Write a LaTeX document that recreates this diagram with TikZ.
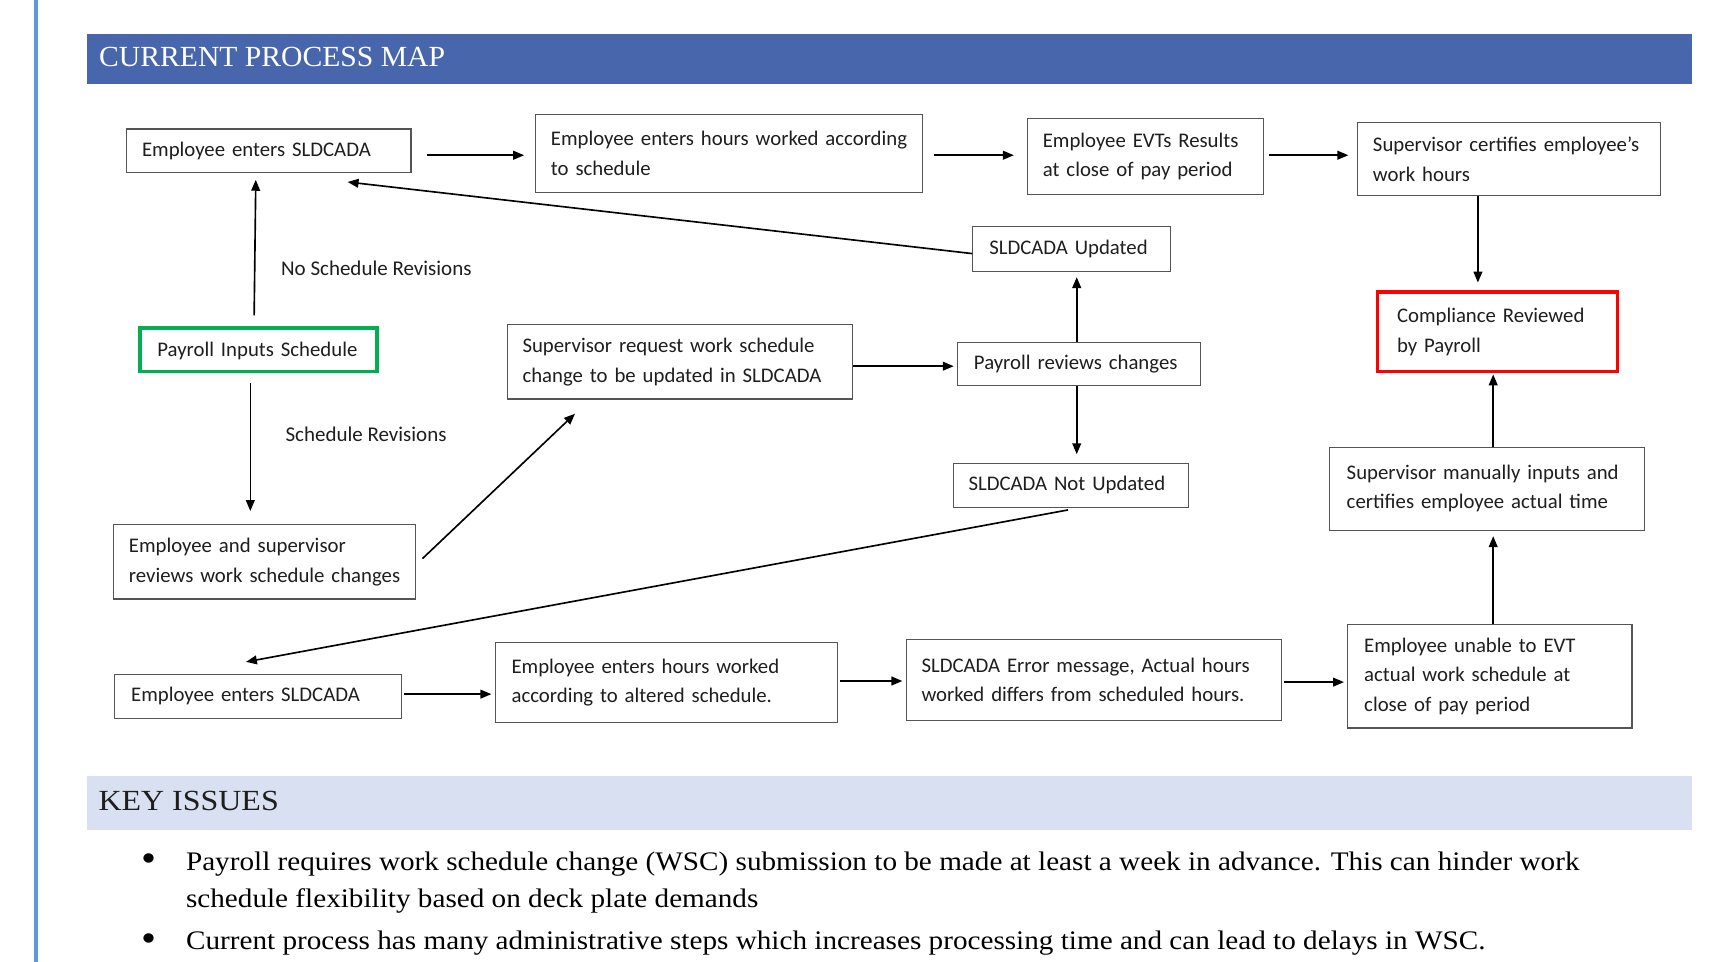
\documentclass[tikz,border=0pt]{standalone}
\usepackage{fontspec}
\setmainfont{Carlito}
\newfontfamily\headserif{Liberation Serif}[FakeStretch=1.016]
\newfontfamily\keyserif{Liberation Serif}[FakeStretch=1.095]
\newfontfamily\bodyserif{Liberation Serif}[FakeStretch=1.09]
\usetikzlibrary{arrows.meta,calc}
\definecolor{hdrblue}{RGB}{72,102,172}
\definecolor{keyband}{RGB}{217,224,241}
\definecolor{barblue}{RGB}{91,155,213}
\definecolor{boxgray}{RGB}{85,85,85}
\definecolor{okgreen}{RGB}{0,176,80}
\definecolor{alertred}{RGB}{255,0,0}
\definecolor{txt}{RGB}{30,30,30}
\newcommand{\keepline}[1]{\mbox{#1}}
\begin{document}
\begin{tikzpicture}[x=1pt,y=-1pt,
  box/.style={draw=boxgray, line width=1pt, align=left, inner xsep=14pt, inner ysep=0pt,
    font=\fontsize{19}{27}\selectfont, text=txt, anchor=center},
  arr/.style={line width=1.5pt, -{Triangle[length=10pt,width=8pt]}},
  lbl/.style={anchor=west, inner sep=0pt, font=\fontsize{19.2}{27}\selectfont, text=txt},
  bullettext/.style={anchor=base west, inner sep=0pt, align=left, font=\bodyserif\fontsize{24.5}{34}\selectfont, text=black},
  bulletdot/.style={anchor=base, inner sep=0pt, font=\bodyserif\fontsize{36}{40}\selectfont, text=black}]
\useasboundingbox (0,0) rectangle (1568,880);
\fill[white] (0,0) rectangle (1568,880);
\fill[barblue] (31,0) rectangle (35,880);
% header
\fill[hdrblue] (80,31) rectangle (1548,77);
\node[anchor=base west, inner sep=0pt, text=white, font=\headserif\fontsize{26.7}{30}\selectfont] (title) at (90.5,61) {CURRENT PROCESS MAP};
% boxes
\node[box, minimum height=40pt, minimum width=260pt, text width=232pt] (A) at (246,138) {\keepline{Employee enters SLDCADA}};
\node[box, minimum height=71pt, minimum width=354pt, text width=326pt] (B) at (667,140.5) {\keepline{Employee enters hours worked according}\\\keepline{to schedule}};
\node[box, minimum height=70pt, minimum width=216pt, text width=188pt] (C) at (1048,143) {\keepline{Employee EVTs Results}\\\keepline{at close of pay period}};
\node[box, minimum height=67pt, minimum width=277pt, text width=249pt] (D) at (1380.5,145.5) {\keepline{Supervisor certifies employee’s}\\\keepline{work hours}};
\node[box, draw=alertred, line width=3pt, minimum height=73pt, minimum width=220pt, text width=184pt, inner xsep=18pt] (E) at (1370,303.5) {\keepline{Compliance Reviewed}\\\keepline{by Payroll}};
\node[box, minimum height=76pt, minimum width=284pt, text width=256pt, inner xsep=16pt] (F) at (1360,447) {\keepline{Supervisor manually inputs and}\\\keepline{certifies employee actual time}};
\node[box, minimum height=95pt, minimum width=260pt, text width=230pt, inner xsep=15pt] (G) at (1363,618.5) {\keepline{Employee unable to EVT}\\\keepline{actual work schedule at}\\\keepline{close of pay period}};
\node[box, minimum height=74pt, minimum width=343pt, text width=315pt] (H) at (1000.5,622) {\keepline{SLDCADA Error message, Actual hours}\\\keepline{worked differs from scheduled hours.}};
\node[box, minimum height=73pt, minimum width=313pt, text width=283pt, inner xsep=15pt] (I) at (609.5,624.5) {\keepline{Employee enters hours worked}\\\keepline{according to altered schedule.}};
\node[box, minimum height=40pt, minimum width=262pt, text width=232pt, inner xsep=15pt] (J) at (236,637) {\keepline{Employee enters SLDCADA}};
\node[box, minimum height=40pt, minimum width=215pt, text width=187pt] (K) at (979.5,444) {\keepline{SLDCADA Not Updated}};
\node[box, minimum height=40pt, minimum width=222pt, text width=192pt, inner xsep=15pt] (L) at (987,333) {\keepline{Payroll reviews changes}};
\node[box, minimum height=41pt, minimum width=181pt, text width=151pt, inner xsep=15pt] (M) at (980.5,227.5) {\keepline{SLDCADA Updated}};
\node[box, minimum height=68pt, minimum width=316pt, text width=288pt] (N) at (622,331) {\keepline{Supervisor request work schedule}\\\keepline{change to be updated in SLDCADA}};
\node[box, draw=okgreen, line width=3pt, minimum height=40pt, minimum width=217pt, text width=185pt, inner xsep=16pt, text depth=1pt] (O) at (236.5,320) {\keepline{Payroll Inputs Schedule}};
\node[box, minimum height=68pt, minimum width=276pt, text width=248pt] (P) at (242,514) {\keepline{Employee and supervisor}\\\keepline{reviews work schedule changes}};
% labels
\node[lbl] (nsr) at (257,245) {No Schedule Revisions};
\node[lbl] (sr) at (261,397) {Schedule Revisions};
% connector end points
\coordinate (a1) at ([yshift=-4pt]A.east);
\coordinate (b1) at ([yshift=-1.5pt]B.east);
\coordinate (c1) at ([yshift=1pt]C.east);
\coordinate (d1) at ([xshift=-28.5pt]D.south);
\coordinate (f1) at ([xshift=6pt]F.north);
\coordinate (g1) at ([xshift=3pt]G.north);
\coordinate (h1) at ([yshift=-2pt]H.east);
\coordinate (i1) at ([yshift=1.5pt]I.east);
\coordinate (j1) at ([yshift=2pt]J.east);
\coordinate (k1) at ([xshift=-2.5pt,yshift=-2pt]K.south);
\coordinate (j2) at ([xshift=-11pt,yshift=11pt]J.north);
\coordinate (l1) at ([xshift=-2pt]L.south);
\coordinate (l2) at ([xshift=-2pt]L.north);
\coordinate (m1) at ([yshift=-4.5pt]M.west);
\coordinate (a2) at ([xshift=72pt,yshift=-8pt]A.south);
\coordinate (n1) at ([yshift=-4pt]N.east);
\coordinate (o1) at ([xshift=-4pt,yshift=10pt]O.north);
\coordinate (a3) at ([xshift=-12pt,yshift=-6pt]A.south);
\coordinate (o2) at ([xshift=-7.5pt,yshift=-9pt]O.south);
\coordinate (p1) at ([xshift=-13pt,yshift=12pt]P.north);
\coordinate (p2) at ([xshift=6pt,yshift=3pt]P.east);
\coordinate (n2) at ([xshift=-96pt,yshift=-13pt]N.south);
% connectors
\draw[arr, shorten <=14pt, shorten >=10pt] (a1) -- (a1 -| B.west);
\draw[arr, shorten <=10pt, shorten >=12pt] (b1) -- (b1 -| C.west);
\draw[arr, shorten <=4pt, shorten >=8pt] (c1) -- (c1 -| D.west);
\draw[arr, shorten >=7pt] (d1) -- (d1 |- E.north);
\draw[arr, shorten >=1pt] (f1) -- (f1 |- E.south);
\draw[arr, shorten >=5pt] (g1) -- (g1 |- F.south);
\draw[arr, shorten <=2pt, shorten >=3pt] (h1) -- (h1 -| G.west);
\draw[arr, shorten <=2pt, shorten >=3pt] (i1) -- (i1 -| H.west);
\draw[arr, shorten <=2pt, shorten >=3pt] (j1) -- (j1 -| I.west);
\draw[arr] (k1) -- (j2);
\draw[arr, shorten >=8pt] (l1) -- (l1 |- K.north);
\draw[arr, shorten >=5pt] (l2) -- (l2 |- M.south);
\draw[arr] (m1) -- (a2);
\draw[arr, shorten >=3pt] (n1) -- (n1 -| L.west);
\draw[arr] (o1) -- (a3);
\draw[arr] (o2) -- (p1);
\draw[arr] (p2) -- (n2);
% key issues
\fill[keyband] (80,710) rectangle (1548,759);
\node[anchor=base west, inner sep=0pt, text=txt, font=\keyserif\fontsize{26.7}{30}\selectfont] (key) at (90,741.6) {KEY ISSUES};
\node[bulletdot] (b1dot) at (136.5,797) {•};
\node[bullettext] (bt1) at (170,830) {Payroll requires work schedule change (WSC) submission to be made at least a week in advance. This can hinder work\\schedule flexibility based on deck plate demands};
\node[bulletdot] (b2dot) at (136.5,870) {•};
\node[bullettext] (bt2) at (170,869) {Current process has many administrative steps which increases processing time and can lead to delays in WSC.};
\end{tikzpicture}
\end{document}
